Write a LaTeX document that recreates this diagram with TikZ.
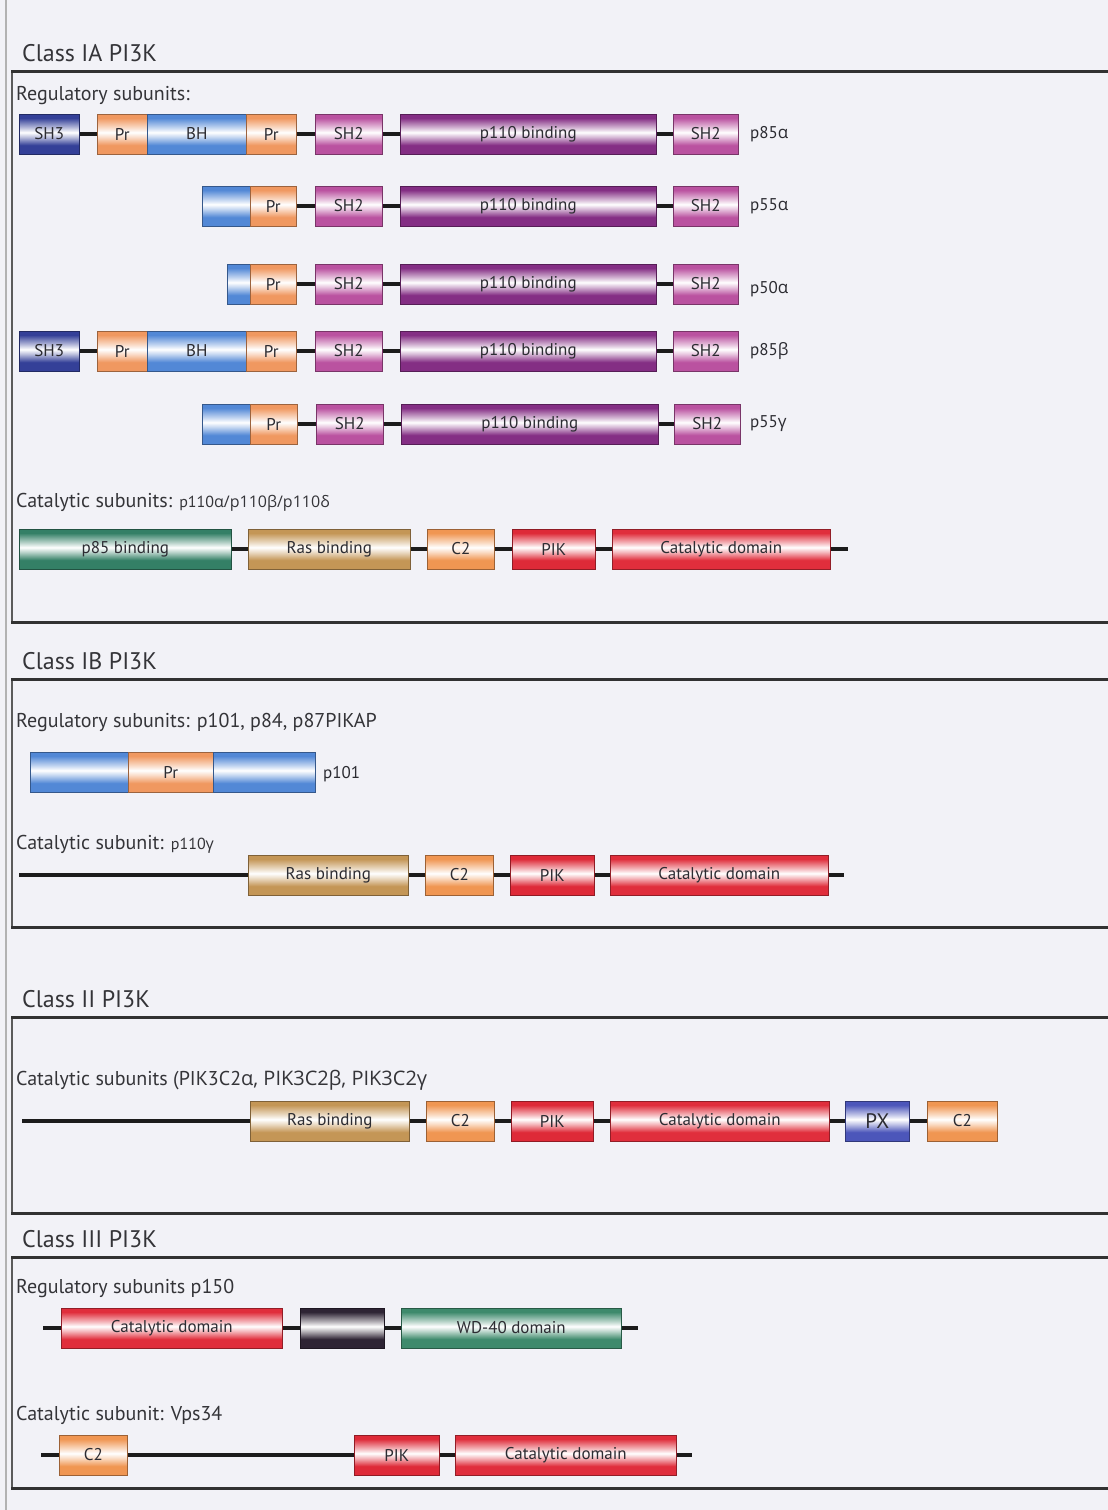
\documentclass[tikz,border=0pt]{standalone}
\usepackage{fontspec}
\setmainfont{PT Sans}
\newfontfamily\grk{Open Sans}
\definecolor{paper}{RGB}{242,242,247}
\definecolor{txt}{RGB}{44,44,50}
\definecolor{hdr}{RGB}{52,52,56}
\definecolor{frm}{RGB}{50,50,50}
\definecolor{linkc}{RGB}{28,28,28}
\definecolor{csh3}{RGB}{52,64,152}
\definecolor{cpr}{RGB}{240,152,96}
\definecolor{cbh}{RGB}{82,136,214}
\definecolor{csh2}{RGB}{186,82,160}
\definecolor{cpb}{RGB}{132,46,132}
\definecolor{cp85}{RGB}{52,128,102}
\definecolor{cras}{RGB}{196,150,86}
\definecolor{cc2}{RGB}{240,150,82}
\definecolor{cpik}{RGB}{222,42,56}
\definecolor{ccat}{RGB}{224,46,60}
\definecolor{cpx}{RGB}{76,86,186}
\definecolor{cdk}{RGB}{46,36,52}
\definecolor{cwd}{RGB}{62,138,108}
\colorlet{dom}{cpr}\colorlet{domdk}{cpr!60!black}\colorlet{domlt}{cpr!35!white}
% cylinder-like shading for the domain bars
\pgfdeclareverticalshading[dom,domdk,domlt]{cyl}{100bp}{color(0bp)=(domdk); color(12bp)=(dom); color(36bp)=(dom); color(46bp)=(domlt); color(52bp)=(white); color(58bp)=(domlt); color(70bp)=(dom); color(88bp)=(dom); color(100bp)=(domdk)}
\newcommand\dom[6]{\node[dombox=#5, minimum width={#3pt-#2pt}] (#1) at (#2,#4) {#6};}
\newcommand\lnk[2]{\draw[link] (#1.east) -- (#2.west);}
\begin{document}
\begin{tikzpicture}[x=1pt,y=-1pt,
  dombox/.style={draw=#1!65!black, line width=0.6pt, shade, shading=cyl,
    /utils/exec={\colorlet{dom}{#1}\colorlet{domdk}{#1!60!black}\colorlet{domlt}{#1!35!white}},
    minimum height=40pt, inner sep=0pt, anchor=west, text=txt,
    font=\fontsize{17}{17}\selectfont},
  link/.style={line width=4pt, draw=linkc},
  lab/.style={anchor=west, inner sep=0pt, text=txt, font=\fontsize{17}{17}\selectfont},
  ttl/.style={anchor=base west, inner sep=0pt, text=hdr, font=\fontsize{24}{24}\selectfont},
  sub/.style={anchor=base west, inner sep=0pt, text=hdr, font=\fontsize{20}{20}\selectfont},
  frameh/.style={line width=3pt, draw=frm},
  framev/.style={line width=1.6pt, draw=frm!80!white},
]
\useasboundingbox (0,0) rectangle (1108,1510);
\fill[paper] (0,0) rectangle (1108,1510);
% page edge
\draw[line width=1.2pt, black!30] (6,0) -- (6,1510);

% section frames
\foreach \t/\b in {71/622, 679/927, 1017/1213, 1257/1488}{
  \draw[framev] (12,\t) -- (12,\b);
  \draw[frameh] (11,\t) -- (1112,\t);
  \draw[frameh] (11,\b) -- (1112,\b);
}

% ---------------- Class IA ----------------
\node[ttl] (tIA) at (22,61) {Class IA PI3K};
\node[sub] (hIAr) at (16,100) {Regulatory subunits:};

% p85 alpha
\dom{sh3a}{19}{79}{134}{csh3}{SH3}
\dom{pra1}{97}{147}{134}{cpr}{Pr}
\dom{bha}{147}{246}{134}{cbh}{BH}
\dom{pra2}{246}{296}{134}{cpr}{Pr}
\dom{sh2a1}{315}{382}{134}{csh2}{SH2}
\dom{pba}{400}{656}{134}{cpb}{p110 binding}
\dom{sh2a2}{673}{738}{134}{csh2}{SH2}
\node[lab] (la) at (750,134) {p85\grk{α}};
\lnk{sh3a}{pra1}\lnk{pra2}{sh2a1}\lnk{sh2a1}{pba}\lnk{pba}{sh2a2}

% p55 alpha
\dom{bhb}{202}{250}{206}{cbh}{}
\dom{prb}{250}{296}{206}{cpr}{Pr}
\dom{sh2b1}{315}{382}{206}{csh2}{SH2}
\dom{pbb}{400}{656}{206}{cpb}{p110 binding}
\dom{sh2b2}{673}{738}{206}{csh2}{SH2}
\node[lab] (lb) at (750,206) {p55\grk{α}};
\lnk{prb}{sh2b1}\lnk{sh2b1}{pbb}\lnk{pbb}{sh2b2}

% p50 alpha
\dom{bhc}{227}{250}{284}{cbh}{}
\dom{prc}{250}{296}{284}{cpr}{Pr}
\dom{sh2c1}{315}{382}{284}{csh2}{SH2}
\dom{pbc}{400}{656}{284}{cpb}{p110 binding}
\dom{sh2c2}{673}{738}{284}{csh2}{SH2}
\node[lab] (lc) at (750,289) {p50\grk{α}};
\lnk{prc}{sh2c1}\lnk{sh2c1}{pbc}\lnk{pbc}{sh2c2}

% p85 beta
\dom{sh3d}{19}{79}{351}{csh3}{SH3}
\dom{prd1}{97}{147}{351}{cpr}{Pr}
\dom{bhd}{147}{246}{351}{cbh}{BH}
\dom{prd2}{246}{296}{351}{cpr}{Pr}
\dom{sh2d1}{315}{382}{351}{csh2}{SH2}
\dom{pbd}{400}{656}{351}{cpb}{p110 binding}
\dom{sh2d2}{673}{738}{351}{csh2}{SH2}
\node[lab] (ld) at (750,351) {p85\grk{β}};
\lnk{sh3d}{prd1}\lnk{prd2}{sh2d1}\lnk{sh2d1}{pbd}\lnk{pbd}{sh2d2}

% p55 gamma
\dom{bhe}{202}{250}{424}{cbh}{}
\dom{pre}{250}{297}{424}{cpr}{Pr}
\dom{sh2e1}{316}{383}{424}{csh2}{SH2}
\dom{pbe}{401}{658}{424}{cpb}{p110 binding}
\dom{sh2e2}{674}{740}{424}{csh2}{SH2}
\node[lab] (le) at (750,424) {p55\grk{γ}};
\lnk{pre}{sh2e1}\lnk{sh2e1}{pbe}\lnk{pbe}{sh2e2}

% catalytic subunits
\node[sub] (hIAc) at (16,507) {Catalytic subunits: {\fontsize{16}{16}\selectfont p110\grk{α}/p110\grk{β}/p110\grk{δ}}};
\dom{p85b}{19}{231}{549}{cp85}{p85 binding}
\dom{rasa}{248}{410}{549}{cras}{Ras binding}
\dom{c2a}{427}{494}{549}{cc2}{C2}
\dom{pika}{512}{595}{549}{cpik}{PIK}
\dom{cata}{612}{830}{549}{ccat}{Catalytic domain}
\coordinate (ea) at (848,549);
\lnk{p85b}{rasa}\lnk{rasa}{c2a}\lnk{c2a}{pika}\lnk{pika}{cata}
\draw[link] (cata.east) -- (ea);

% ---------------- Class IB ----------------
\node[ttl] (tIB) at (22,669) {Class IB PI3K};
\node[sub] (hIBr) at (16,727) {Regulatory subunits: p101, p84, p87PIKAP};
\dom{blf1}{30}{128}{772}{cbh}{}
\dom{prf}{128}{213}{772}{cpr}{Pr}
\dom{blf2}{213}{315}{772}{cbh}{}
\node[lab] (lf) at (323,774) {p101};

\node[sub] (hIBc) at (16,849) {Catalytic subunit: {\fontsize{16}{16}\selectfont p110\grk{γ}}};
\coordinate (sg) at (19,875);
\dom{rasb}{248}{408}{875}{cras}{Ras binding}
\dom{c2b}{425}{493}{875}{cc2}{C2}
\dom{pikb}{510}{594}{875}{cpik}{PIK}
\dom{catb}{610}{828}{875}{ccat}{Catalytic domain}
\coordinate (eg) at (844,875);
\draw[link] (sg) -- (rasb.west);
\lnk{rasb}{c2b}\lnk{c2b}{pikb}\lnk{pikb}{catb}
\draw[link] (catb.east) -- (eg);

% ---------------- Class II ----------------
\node[ttl] (tII) at (22,1007) {Class II PI3K};
\node[sub] (hII) at (16,1085) {Catalytic subunits (PIK3C2\grk{α}, PIK3C2\grk{β}, PIK3C2\grk{γ}};
\coordinate (sh) at (22,1121);
\dom{rasc}{250}{409}{1121}{cras}{Ras binding}
\dom{c2c}{426}{494}{1121}{cc2}{C2}
\dom{pikc}{511}{593}{1121}{cpik}{PIK}
\dom{catc}{610}{829}{1121}{ccat}{Catalytic domain}
\dom{pxc}{845}{909}{1121}{cpx}{\fontsize{21}{21}\selectfont PX}
\dom{c2d}{927}{997}{1121}{cc2}{C2}
\draw[link] (sh) -- (rasc.west);
\lnk{rasc}{c2c}\lnk{c2c}{pikc}\lnk{pikc}{catc}\lnk{catc}{pxc}\lnk{pxc}{c2d}

% ---------------- Class III ----------------
\node[ttl] (tIII) at (22,1247) {Class III PI3K};
\node[sub] (hIIIr) at (16,1293) {Regulatory subunits p150};
\coordinate (si) at (43,1328);
\dom{catd}{61}{282}{1328}{ccat}{Catalytic domain}
\dom{dki}{300}{384}{1328}{cdk}{}
\dom{wdi}{401}{621}{1328}{cwd}{WD-40 domain}
\coordinate (ei) at (638,1328);
\draw[link] (si) -- (catd.west);
\lnk{catd}{dki}\lnk{dki}{wdi}
\draw[link] (wdi.east) -- (ei);

\node[sub] (hIIIc) at (16,1420) {Catalytic subunit: Vps34};
\coordinate (sj) at (41,1455);
\dom{c2e}{59}{127}{1455}{cc2}{C2}
\dom{pikd}{354}{439}{1455}{cpik}{PIK}
\dom{cate}{455}{676}{1455}{ccat}{Catalytic domain}
\coordinate (ej) at (692,1455);
\draw[link] (sj) -- (c2e.west);
\lnk{c2e}{pikd}\lnk{pikd}{cate}
\draw[link] (cate.east) -- (ej);
\end{tikzpicture}
\end{document}
